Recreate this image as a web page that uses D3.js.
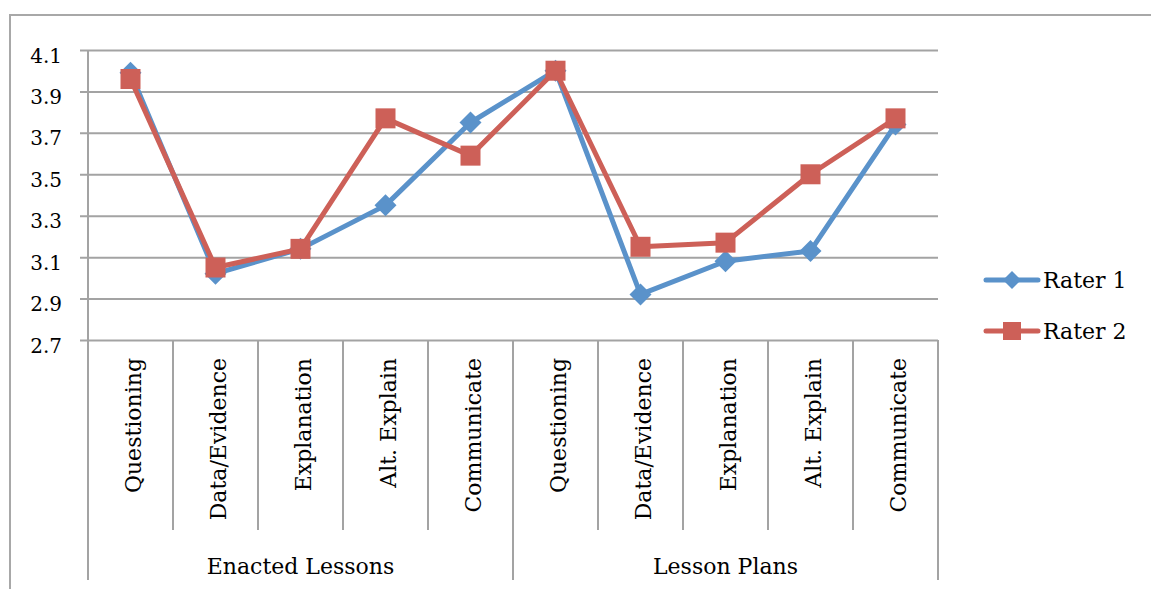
<!DOCTYPE html>
<html>
<head>
<meta charset="utf-8">
<script src="https://cdn.jsdelivr.net/npm/d3@7"></script>
<style>
html,body{margin:0;padding:0;background:#fff;}
svg text{font-family:"DejaVu Serif",serif;fill:#000;}
</style>
</head>
<body>
<svg id="chart" width="1151" height="589"></svg>
<script>
const categories = ["Questioning","Data/Evidence","Explanation","Alt. Explain","Communicate",
                    "Questioning","Data/Evidence","Explanation","Alt. Explain","Communicate"];
const groups = ["Enacted Lessons","Lesson Plans"];
const groupSize = 5;
const rater1 = [3.99,3.02,3.14,3.35,3.75,4.00,2.92,3.08,3.13,3.74];
const rater2 = [3.96,3.05,3.14,3.77,3.59,4.00,3.15,3.17,3.50,3.77];
const seriesNames = ["Rater 1","Rater 2"];
const yTicks = [2.7,2.9,3.1,3.3,3.5,3.7,3.9,4.1];

(function(){
const colors = ["#5A92CA","#CD6058"];
const svg = d3.select("#chart");
const pL = 88, pR = 938, pT = 50, pB = 340;
const fontSize = 22;

// outer border (clipped by page edges)
svg.append("rect").attr("x",10).attr("y",15).attr("width",1160).attr("height",600)
  .attr("fill","none").attr("stroke","#a8a8a8").attr("stroke-width",2);

const x = d3.scaleBand().domain(d3.range(categories.length)).range([pL,pR]).padding(0);
const y = d3.scaleLinear().domain([2.7,4.1]).range([pB,pT]);
const cx = i => x(i) + x.bandwidth()/2;

// gridlines + y axis
const yAxis = d3.axisLeft(y).tickValues(yTicks).tickFormat(d3.format(".1f"))
  .tickSize(-(pR-pL)).tickSizeOuter(0).tickPadding(26);
const gy = svg.append("g").attr("transform",`translate(${pL},0)`).call(yAxis);
gy.select(".domain").remove();
gy.selectAll(".tick line").attr("x1",-8).attr("stroke","#a3a3a3").attr("stroke-width",2);
gy.selectAll(".tick text").attr("font-size",20).attr("dy","0.6em")
  .attr("font-family","DejaVu Serif").attr("fill","#000");

// vertical axis line
svg.append("line").attr("x1",pL).attr("x2",pL).attr("y1",pT).attr("y2",580)
  .attr("stroke","#a3a3a3").attr("stroke-width",2);

// category separators
const seps = d3.range(1, categories.length+1);
svg.selectAll(".sep").data(seps).enter().append("line")
  .attr("x1",d => x(d-1)+x.bandwidth()).attr("x2",d => x(d-1)+x.bandwidth())
  .attr("y1",pB).attr("y2",d => d % groupSize === 0 ? 580 : 530)
  .attr("stroke","#a3a3a3").attr("stroke-width",2);

// category labels rotated
svg.selectAll(".cat").data(categories).enter().append("text")
  .attr("transform",(d,i) => `translate(${cx(i)+10},358) rotate(-90)`)
  .attr("text-anchor","end").attr("font-size",fontSize).text(d => d);

// group labels
svg.selectAll(".grp").data(groups).enter().append("text")
  .attr("x",(d,i) => (x(i*groupSize) + x(i*groupSize+groupSize-1)+x.bandwidth())/2)
  .attr("y",574).attr("text-anchor","middle").attr("font-size",fontSize).text(d => d);

// markers
function marker(g, type, size){
  const h = size/2;
  if(type===0){
    g.append("path").attr("d",`M0,${-h}L${h},0L0,${h}L${-h},0Z`);
  } else {
    g.append("rect").attr("x",-h).attr("y",-h).attr("width",size).attr("height",size);
  }
}

const line = d3.line().x((d,i) => cx(i)).y(d => y(d));
[rater1, rater2].forEach((vals, s) => {
  svg.append("path").datum(vals).attr("d",line).attr("fill","none")
    .attr("stroke",colors[s]).attr("stroke-width",5).attr("stroke-linejoin","round");
  vals.forEach((v,i) => {
    const g = svg.append("g").attr("transform",`translate(${cx(i)},${y(v)})`).attr("fill",colors[s]);
    marker(g, s, s===0 ? 22 : 20);
  });
});

// legend
const legY = [280, 331];
seriesNames.forEach((name, s) => {
  svg.append("line").attr("x1",986).attr("x2",1038).attr("y1",legY[s]).attr("y2",legY[s])
    .attr("stroke",colors[s]).attr("stroke-width",5).attr("stroke-linecap","round");
  const g = svg.append("g").attr("transform",`translate(1012,${legY[s]})`).attr("fill",colors[s]);
  marker(g, s, 18);
  svg.append("text").attr("x",1043).attr("y",legY[s]).attr("dy","0.35em")
    .attr("font-size",fontSize).text(name);
});
})();
</script>
</body>
</html>
